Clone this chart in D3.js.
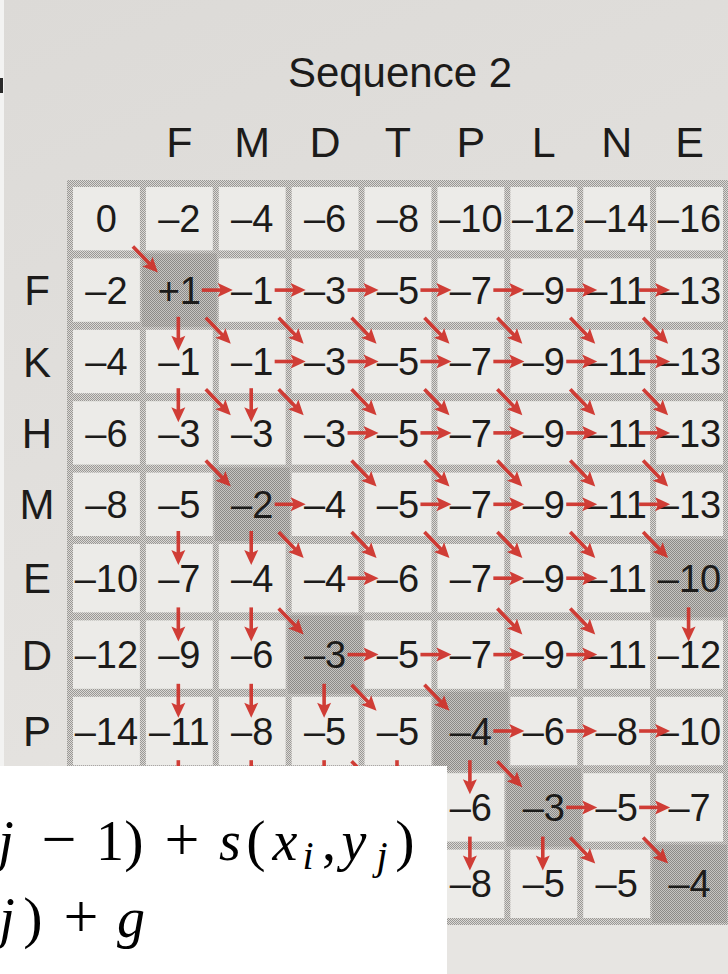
<!DOCTYPE html>
<html>
<head>
<meta charset="utf-8">
<script src="https://cdn.jsdelivr.net/npm/d3@7"></script>
<style>
  html, body { margin: 0; padding: 0; background: #e0dedb; }
  svg { display: block; }
</style>
</head>
<body>
<svg id="chart" width="728" height="974"></svg>
<script>
// Sequence letters (top = sequence 2, left = sequence 1)
const seq2 = ["F", "M", "D", "T", "P", "L", "N", "E"];
const seq1 = ["F", "K", "H", "M", "E", "D", "P", "L", "E"];

// Score matrix, one row each (null = covered by the formula box)
const row0 = [0, -2, -4, -6, -8, -10, -12, -14, -16];
const rowF = [-2, 1, -1, -3, -5, -7, -9, -11, -13];
const rowK = [-4, -1, -1, -3, -5, -7, -9, -11, -13];
const rowH = [-6, -3, -3, -3, -5, -7, -9, -11, -13];
const rowM = [-8, -5, -2, -4, -5, -7, -9, -11, -13];
const rowE = [-10, -7, -4, -4, -6, -7, -9, -11, -10];
const rowD = [-12, -9, -6, -3, -5, -7, -9, -11, -12];
const rowP = [-14, -11, -8, -5, -5, -4, -6, -8, -10];
const rowL = [null, null, null, null, null, -6, -3, -5, -7];
const rowE2 = [null, null, null, null, null, -8, -5, -5, -4];
const scores = [row0, rowF, rowK, rowH, rowM, rowE, rowD, rowP, rowL, rowE2];

// Traceback arrows into each cell: d = diagonal, l = from left, u = from above
const ptr0 = ["", "", "", "", "", "", "", "", ""];
const ptrF = ["", "d", "l", "l", "l", "l", "l", "l", "l"];
const ptrK = ["", "u", "d", "dl", "dl", "dl", "dl", "dl", "dl"];
const ptrH = ["", "u", "du", "d", "dl", "dl", "dl", "dl", "dl"];
const ptrM = ["", "", "d", "l", "d", "dl", "dl", "dl", "dl"];
const ptrE = ["", "u", "u", "d", "dl", "d", "dl", "dl", "d"];
const ptrD = ["", "u", "u", "d", "l", "l", "dl", "dl", "u"];
const ptrP = ["", "u", "u", "u", "d", "d", "l", "l", "l"];
const ptrL = ["", "u", "u", "u", "du", "u", "d", "l", "l"];
const ptrE2 = ["", "", "", "", "", "u", "u", "d", "d"];
const pointers = [ptr0, ptrF, ptrK, ptrH, ptrM, ptrE, ptrD, ptrP, ptrL, ptrE2];

// Shaded (matching) cells as [row, col]
const shaded = [[1, 1], [4, 2], [6, 3], [5, 8], [7, 5], [8, 6], [9, 8]];

// rows whose label is not hidden by the pasted formula box
const visibleLabels = 7;

const svg = d3.select("#chart");
const defs = svg.append("defs");

// Stipple patterns for the printed grid lines and the shaded cells
function stipple(id, dark, light) {
  const p = defs.append("pattern")
    .attr("id", id).attr("width", 2).attr("height", 2)
    .attr("patternUnits", "userSpaceOnUse");
  p.append("rect").attr("width", 2).attr("height", 2).attr("fill", light);
  p.append("rect").attr("width", 1).attr("height", 1).attr("fill", dark);
  p.append("rect").attr("x", 1).attr("y", 1).attr("width", 1).attr("height", 1).attr("fill", dark);
}
stipple("grid", "#9a9895", "#dad8d5");
stipple("shade", "#8c8a87", "#c6c4c1");

const paper = defs.append("linearGradient").attr("id", "paper")
  .attr("x1", 0).attr("y1", 0).attr("x2", 0.3).attr("y2", 1);
paper.append("stop").attr("offset", "0%").attr("stop-color", "#dcdad7");
paper.append("stop").attr("offset", "100%").attr("stop-color", "#e7e5e2");

svg.append("rect").attr("width", 728).attr("height", 974).attr("fill", "url(#paper)");
svg.append("rect").attr("width", 4).attr("height", 974).attr("fill", "#f3f3f2");
svg.append("rect").attr("x", 0).attr("y", 78).attr("width", 3).attr("height", 15).attr("fill", "#2a2a2a");

// Column and row edges (rows widen toward the bottom, as in the photo)
const x = d3.scaleLinear().domain([0, 9]).range([70, 726]);
const y = d3.scaleLinear().domain([0, 5, 10]).range([183, 540, 922]);
const cx = j => (x(j) + x(j + 1)) / 2;
const cy = i => (y(i) + y(i + 1)) / 2;

const font = "'Liberation Sans', Arial, Helvetica, sans-serif";
const ink = "#1c1b1a";

svg.append("text")
  .attr("x", 400).attr("y", 87)
  .attr("text-anchor", "middle")
  .style("font-family", font).style("font-size", "42px").attr("fill", ink)
  .text("Sequence 2");

svg.append("g").selectAll("text")
  .data(seq2)
  .join("text")
  .attr("x", (d, k) => cx(k + 1))
  .attr("y", 157)
  .attr("text-anchor", "middle")
  .style("font-family", font).style("font-size", "43px").attr("fill", ink)
  .text(d => d);

svg.append("g").selectAll("text")
  .data(seq1.slice(0, visibleLabels))
  .join("text")
  .attr("x", 37)
  .attr("y", (d, k) => cy(k + 1))
  .attr("dy", "0.36em")
  .attr("text-anchor", "middle")
  .style("font-family", font).style("font-size", "42px").attr("fill", ink)
  .text(d => d);

// Grid: stippled frame, light cells, shaded matches
svg.append("rect")
  .attr("x", x(0) - 3).attr("y", y(0) - 3)
  .attr("width", x(9) - x(0) + 6).attr("height", y(10) - y(0) + 6)
  .attr("fill", "url(#grid)");

const cells = [];
scores.forEach((row, i) => row.forEach((v, j) => cells.push({ i, j, v })));

svg.append("g").selectAll("rect")
  .data(cells)
  .join("rect")
  .attr("x", d => x(d.j) + 3)
  .attr("y", d => y(d.i) + 4)
  .attr("width", d => x(d.j + 1) - x(d.j) - 6)
  .attr("height", d => y(d.i + 1) - y(d.i) - 8)
  .attr("fill", "#ecebe8");

svg.append("g").selectAll("rect")
  .data(shaded)
  .join("rect")
  .attr("x", d => x(d[1]) - 1)
  .attr("y", d => y(d[0]) - 1)
  .attr("width", d => x(d[1] + 1) - x(d[1]) + 2)
  .attr("height", d => y(d[0] + 1) - y(d[0]) + 2)
  .attr("fill", "url(#shade)");

const fmt = v => v > 0 ? "+" + v : v < 0 ? "\u2013" + Math.abs(v) : "0";

svg.append("g").selectAll("text")
  .data(cells.filter(d => d.v !== null))
  .join("text")
  .attr("x", d => cx(d.j))
  .attr("y", d => cy(d.i))
  .attr("dy", "0.36em")
  .attr("text-anchor", "middle")
  .style("font-family", font).style("font-size", "38px").attr("fill", ink)
  .text(d => fmt(d.v));

// Traceback arrows
const arrows = [];
pointers.forEach((row, i) => row.forEach((p, j) => {
  for (const c of p) {
    if (c === "l") arrows.push([[x(j) - 14, cy(i)], [x(j) + 17, cy(i)]]);
    if (c === "u") arrows.push([[cx(j) - 1, y(i) - 9], [cx(j) - 1, y(i) + 25]]);
    if (c === "d") arrows.push([[x(j) - 10, y(i) - 8], [x(j) + 15, y(i) + 18]]);
  }
}));

const red = "#cf342d";
const unit = d => {
  const dx = d[1][0] - d[0][0], dy = d[1][1] - d[0][1];
  const L = Math.hypot(dx, dy);
  return [dx / L, dy / L];
};
const ag = svg.append("g").attr("opacity", 0.95);
ag.selectAll("line")
  .data(arrows)
  .join("line")
  .attr("x1", d => d[0][0]).attr("y1", d => d[0][1])
  .attr("x2", d => d[1][0] - unit(d)[0] * 9)
  .attr("y2", d => d[1][1] - unit(d)[1] * 9)
  .attr("stroke", red).attr("stroke-width", 3.6);
ag.selectAll("path")
  .data(arrows)
  .join("path")
  .attr("d", d => {
    const [ux, uy] = unit(d);
    const bx = d[1][0] - ux * 15, by = d[1][1] - uy * 15;
    return `M${d[1][0]},${d[1][1]}L${bx - uy * 7},${by + ux * 7}L${bx + ux * 3},${by + uy * 3}L${bx + uy * 7},${by - ux * 7}Z`;
  })
  .attr("fill", red);

// Pasted formula box at the bottom left
svg.append("rect").attr("x", 0).attr("y", 766).attr("width", 447).attr("height", 208).attr("fill", "#ffffff");

const serif = "'Liberation Serif', 'Times New Roman', serif";
const formula = [
  { t: "j", x: 6, y: 860, it: true, s: 56 },
  { t: "\u2212", x: 59, y: 860, s: 62 },
  { t: "1", x: 110, y: 860, s: 56 },
  { t: ")", x: 134, y: 860, s: 58 },
  { t: "+", x: 182, y: 860, s: 62 },
  { t: "s", x: 230, y: 860, it: true, s: 56 },
  { t: "(", x: 256, y: 860, s: 58 },
  { t: "x", x: 285, y: 860, it: true, s: 56 },
  { t: "i", x: 308, y: 869, it: true, s: 40 },
  { t: ",", x: 329, y: 860, s: 56 },
  { t: "y", x: 354, y: 860, it: true, s: 56 },
  { t: "j", x: 382, y: 869, it: true, s: 40 },
  { t: ")", x: 405, y: 860, s: 58 },
  { t: "j", x: 7, y: 937, it: true, s: 56 },
  { t: ")", x: 33, y: 937, s: 58 },
  { t: "+", x: 81, y: 937, s: 62 },
  { t: "g", x: 131, y: 937, it: true, s: 56 }
];
svg.append("g").selectAll("text")
  .data(formula)
  .join("text")
  .attr("x", d => d.x).attr("y", d => d.y)
  .attr("text-anchor", "middle")
  .style("font-family", serif)
  .style("font-style", d => d.it ? "italic" : "normal")
  .style("font-size", d => d.s + "px")
  .attr("fill", "#000")
  .text(d => d.t);
</script>
</body>
</html>
